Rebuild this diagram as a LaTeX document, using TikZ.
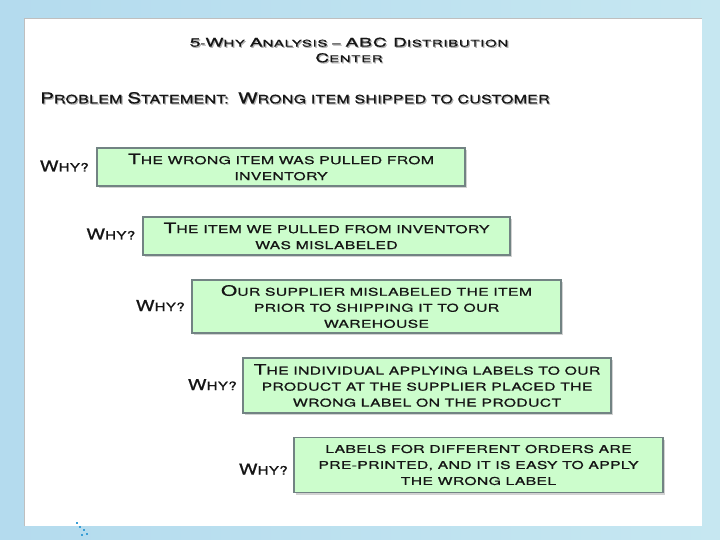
\documentclass[tikz,border=0pt]{standalone}
\usepackage{fontspec}
\newfontfamily\cgb{TeX Gyre Heros}[FakeStretch=1.458, FakeBold=0.85, LetterSpace=3]
\newfontfamily\cgp{TeX Gyre Heros}[FakeStretch=1.38, FakeBold=0.85, LetterSpace=3]
\newfontfamily\cgw{TeX Gyre Heros}[FakeStretch=1.32, FakeBold=0.85, LetterSpace=3]
\newfontfamily\cgt{TeX Gyre Heros}[FakeStretch=1.6, FakeBold=0.8, LetterSpace=8]
\usetikzlibrary{shadows}
\definecolor{bgA}{HTML}{B4DBEE}
\definecolor{bgB}{HTML}{C6E7F1}
\definecolor{boxfill}{HTML}{CCFDCC}
\definecolor{boxdraw}{HTML}{728383}
\definecolor{txt}{HTML}{151515}
\definecolor{dotc}{HTML}{3A9FD6}
\newcommand\Bb[1]{{\fontsize{14.3}{16}\selectfont #1}}
\newcommand\Bp[1]{{\fontsize{15}{16}\selectfont #1}}
\newcommand\Bt[1]{{\fontsize{12}{15.5}\selectfont #1}}
\tikzset{
  whybox/.style={draw=boxdraw, fill=boxfill, line width=1.1pt,
    drop shadow={shadow xshift=2pt, shadow yshift=-2pt, opacity=0.35},
    align=center, text=txt, inner sep=0pt,
    font=\cgb\fontsize{10.8}{16}\selectfont},
  whylabel/.style={anchor=base east, text=txt, inner sep=0pt,
    font=\cgw\fontsize{11.5}{16}\selectfont},
  headtxt/.style={text=txt, inner sep=0pt, anchor=base west,
    font=\cgp\fontsize{11.5}{16}\selectfont},
  headshadow/.style={headtxt, text=black!30},
  titletxt/.style={text=txt, inner sep=0pt, align=center,
    font=\cgt\fontsize{9.3}{15.5}\selectfont},
  titleshadow/.style={titletxt, text=black!30},
}
\begin{document}
\begin{tikzpicture}[x=1pt,y=-1pt]
\useasboundingbox (0,0) rectangle (720,540);
% background
\shade[left color=bgA, right color=bgB] (0,0) rectangle (720,540);
% panel
\fill[white] (24,18.5) rectangle (701.5,526);
\draw[black!25, line width=0.6pt] (24,526) -- (24,18.5) -- (701.5,18.5);
% small decoration
\foreach \p in {(77,523),(80,527),(84,530),(87,534),(82,535)}
  \fill[dotc] \p ++(-0.9,-0.9) rectangle ++(1.8,1.8);
% title
\node[titleshadow] (ts) at (350.2,51.2) {\Bt{5}-\Bt{W}HY \Bt{A}NALYSIS – \Bt{ABC D}ISTRIBUTION\\\Bt{C}ENTER};
\node[titletxt] (t) at (349,50) {\Bt{5}-\Bt{W}HY \Bt{A}NALYSIS – \Bt{ABC D}ISTRIBUTION\\\Bt{C}ENTER};
% problem statement
\node[headshadow] (ps) at (41.2,104.5) {\Bp{P}ROBLEM \Bp{S}TATEMENT:\ \ \Bp{W}RONG ITEM SHIPPED TO CUSTOMER};
\node[headtxt] (p) at (40,103.3) {\Bp{P}ROBLEM \Bp{S}TATEMENT:\ \ \Bp{W}RONG ITEM SHIPPED TO CUSTOMER};
% boxes
\node[whybox, minimum width=368, minimum height=38] (b1) at (281,167)
  {\Bb{T}HE WRONG ITEM WAS PULLED FROM\\INVENTORY};
\node[whybox, minimum width=367, minimum height=38] (b2) at (326.5,236)
  {\Bb{T}HE ITEM WE PULLED FROM INVENTORY\\WAS MISLABELED};
\node[whybox, minimum width=369, minimum height=53] (b3) at (376.5,306.5)
  {\Bb{O}UR SUPPLIER MISLABELED THE ITEM\\PRIOR TO SHIPPING IT TO OUR\\WAREHOUSE};
\node[whybox, minimum width=368, minimum height=55] (b4) at (427,385.5)
  {\Bb{T}HE INDIVIDUAL APPLYING LABELS TO OUR\\PRODUCT AT THE SUPPLIER PLACED THE\\WRONG LABEL ON THE PRODUCT};
\node[whybox, minimum width=369, minimum height=55] (b5) at (478.5,465)
  {LABELS FOR DIFFERENT ORDERS ARE\\PRE-PRINTED, AND IT IS EASY TO APPLY\\THE WRONG LABEL};
% why labels
\node[whylabel] (w1) at (89,171.5) {\Bp{W}HY?};
\node[whylabel] (w2) at (135.5,239.5) {\Bp{W}HY?};
\node[whylabel] (w3) at (185,311) {\Bp{W}HY?};
\node[whylabel] (w4) at (237,390) {\Bp{W}HY?};
\node[whylabel] (w5) at (288,474.5) {\Bp{W}HY?};
\end{tikzpicture}
\end{document}
